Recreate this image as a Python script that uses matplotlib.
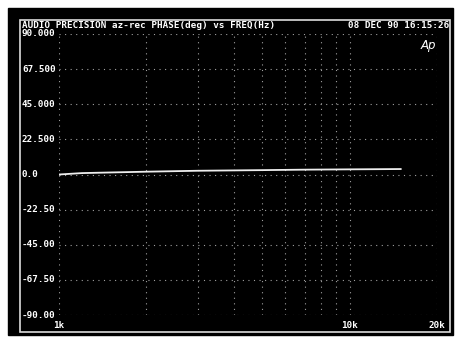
import matplotlib
matplotlib.use('Agg')
import matplotlib.pyplot as plt
import matplotlib.patches as patches
import matplotlib.transforms as mtransforms

# phase response
freq_hz = [1000, 1200, 1500, 2000, 3000, 5000, 7000, 10000, 15000]
phase_deg = [0.0, 0.9, 1.3, 1.8, 2.4, 2.8, 3.1, 3.3, 3.5]

y_ticks = [90, 67.5, 45, 22.5, 0, -22.5, -45, -67.5, -90]
y_labels = ['90.000', '67.500', '45.000', '22.500', '0.0',
            '-22.50', '-45.00', '-67.50', '-90.00']
x_grid = [1000, 2000, 3000, 4000, 5000, 6000, 7000, 8000, 9000, 10000, 20000]
x_label_pos = [1000, 10000, 20000]
x_labels = ['1k', '10k', '20k']

W, H = 458, 338
fig = plt.figure(figsize=(W / 100, H / 100), dpi=100)
fig.patch.set_facecolor('white')

def fx(px):
    return px / W

def fy(py):
    return 1 - py / H

# black screen and white frame, behind the axes
fig.patches.append(patches.Rectangle((fx(8), fy(335)), fx(445), (335 - 8) / H,
                                     transform=fig.transFigure, color='black', zorder=-10))
fig.patches.append(patches.Rectangle((fx(20), fy(332)), fx(430), (332 - 20) / H,
                                     transform=fig.transFigure, fill=False,
                                     edgecolor='#dddddd', lw=1.2, zorder=-9))

ax = fig.add_axes([fx(59), fy(315), fx(437 - 59), (315 - 34) / H])
ax.patch.set_alpha(0)
ax.set_xscale('log')
ax.set_xlim(1000, 20000)
ax.set_ylim(-90, 90)
for s in ax.spines.values():
    s.set_visible(False)
ax.set_xticks([])
ax.set_yticks([])
ax.minorticks_off()

dot = (0, (1, 4))
for x in x_grid:
    ax.axvline(x, color='#a0a0a0', lw=0.8, linestyle=dot)
for y in y_ticks:
    ax.axhline(y, color='#a0a0a0', lw=0.8, linestyle=dot)

ax.plot(freq_hz, phase_deg, color='#eeeeee', lw=1.3)

mono = dict(family='DejaVu Sans Mono', fontweight='bold', color='white', fontsize=6.7)

# y labels, left aligned at the frame
ytr = mtransforms.blended_transform_factory(fig.transFigure, ax.transData)
for y, lab in zip(y_ticks, y_labels):
    ax.text(fx(22), y, lab, transform=ytr, ha='left', va='center', **mono)

# x labels under the grid
xtr = mtransforms.blended_transform_factory(ax.transData, fig.transFigure)
for x, lab in zip(x_label_pos, x_labels):
    ax.text(x, fy(326), lab, transform=xtr, ha='center', va='center', **mono)

fig.text(fx(22), fy(25.5), 'AUDIO PRECISION az-rec PHASE(deg) vs FREQ(Hz)',
         ha='left', va='center', **mono)
fig.text(fx(449), fy(25.5), '08 DEC 90 16:15:26', ha='right', va='center', **mono)
fig.text(fx(428), fy(45), 'Ap', ha='center', va='center', color='white',
         fontsize=8.5, style='italic', family='DejaVu Sans')

fig.savefig('out.png', dpi=100, facecolor='white')
